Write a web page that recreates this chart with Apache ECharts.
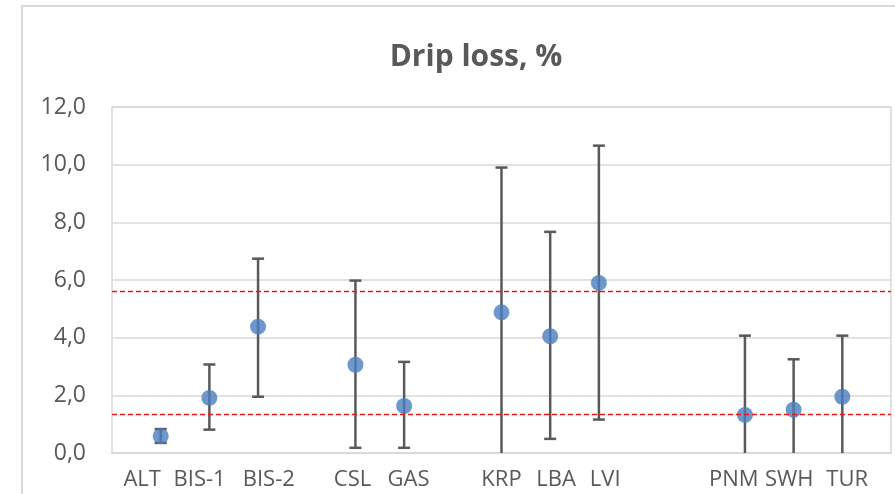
<!DOCTYPE html>
<html>
<head>
<meta charset="utf-8">
<script src="https://cdn.jsdelivr.net/npm/echarts@6/dist/echarts.min.js"></script>
<style>html,body{margin:0;padding:0;background:#fff}#c{width:895px;height:494px}</style>
</head>
<body>
<div id="c"></div>
<script>
// categories, x positions of points, and x positions where the tick labels sit (axis units)
const categories = ['ALT','BIS-1','BIS-2','CSL','GAS','KRP','LBA','LVI','PNM','SWH','TUR'];
const positions  = [1, 2, 3, 5, 6, 8, 9, 10, 13, 14, 15];
const labelAt    = [0.62, 1.80, 3.22, 4.94, 6.09, 8.00, 9.12, 10.13, 12.77, 13.91, 15.10];
const means = [0.58, 1.91, 4.38, 3.06, 1.63, 4.88, 4.05, 5.90, 1.32, 1.50, 1.95];
const lows  = [0.35, 0.81, 1.95, 0.18, 0.18, 0.00, 0.49, 1.16, 0.00, 0.00, 0.00];
const highs = [0.83, 3.07, 6.74, 5.98, 3.16, 9.90, 7.67, 10.66, 4.07, 3.25, 4.07];
const refLines = [1.35, 5.60];
const yTicks = [0, 2, 4, 6, 8, 10, 12];

const FONT = '"Open Sans"';
const chart = echarts.init(document.getElementById('c'), null, {renderer: 'canvas'});

const errData = positions.map((p, i) => [p, lows[i], highs[i]]);
const ptData = positions.map((p, i) => [p, means[i]]);

chart.setOption({
  animation: false,
  graphic: [{
    type: 'rect', shape: {x: 22, y: 6, width: 900, height: 520},
    style: {fill: 'none', stroke: '#d9d9d9', lineWidth: 2}, z: -10
  }],
  title: {
    text: 'Drip loss, %', left: 471, top: 37, textAlign: 'center',
    textStyle: {fontFamily: FONT, fontWeight: 'bold', fontSize: 30, color: '#595959'}
  },
  grid: {left: 112, right: 4, top: 107, bottom: 41, show: true, borderColor: '#d9d9d9', borderWidth: 1.5},
  xAxis: {
    type: 'value', min: 0, max: 16,
    axisLine: {show: true, lineStyle: {color: '#d9d9d9', width: 2}},
    axisTick: {show: false}, splitLine: {show: false},
    axisLabel: {
      margin: 16, fontFamily: FONT, fontSize: 22, color: '#595959',
      customValues: labelAt,
      formatter: v => {
        const i = labelAt.findIndex(a => Math.abs(a - v) < 1e-6);
        return i >= 0 ? categories[i] : '';
      }
    }
  },
  yAxis: {
    type: 'value', min: 0, max: 12, interval: 2,
    axisLine: {show: false}, axisTick: {show: false},
    splitLine: {lineStyle: {color: '#d9d9d9', width: 1.5}},
    axisLabel: {
      margin: 26, fontFamily: FONT, fontSize: 23, color: '#595959',
      formatter: v => yTicks.includes(v) ? v.toFixed(1).replace('.', ',') : ''
    }
  },
  series: [{
    type: 'custom',
    data: errData,
    z: 2,
    renderItem: (params, api) => {
      const x = api.value(0), lo = api.value(1), hi = api.value(2);
      const pLo = api.coord([x, lo]), pHi = api.coord([x, hi]);
      const cw = 6;
      const style = {stroke: '#595959', lineWidth: 2.5};
      const children = [
        {type: 'line', shape: {x1: pLo[0], y1: pLo[1], x2: pHi[0], y2: pHi[1]}, style},
        {type: 'line', shape: {x1: pHi[0] - cw, y1: pHi[1], x2: pHi[0] + cw, y2: pHi[1]}, style}
      ];
      if (lo > 0) children.push({type: 'line', shape: {x1: pLo[0] - cw, y1: pLo[1], x2: pLo[0] + cw, y2: pLo[1]}, style});
      return {type: 'group', children};
    }
  }, {
    type: 'scatter',
    data: ptData,
    symbolSize: 16,
    z: 3,
    itemStyle: {color: '#4a7ebf'}
  }, {
    type: 'line',
    data: [],
    z: 5,
    markLine: {
      silent: true, symbol: ['none', 'none'], label: {show: false},
      lineStyle: {color: '#e31a1c', type: [5, 3], width: 1.3},
      data: refLines.map(v => ({yAxis: v}))
    }
  }]
});
</script>
</body>
</html>
